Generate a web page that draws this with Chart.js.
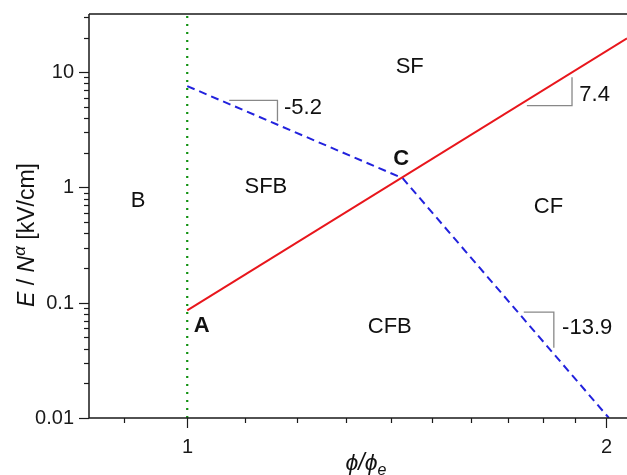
<!DOCTYPE html>
<html>
<head>
<meta charset="utf-8">
<script src="https://cdn.jsdelivr.net/npm/chart.js@4/dist/chart.umd.min.js"></script>
<style>
html,body{margin:0;padding:0;background:#fff;}
canvas{display:block;}
</style>
</head>
<body>
<canvas id="c" width="627" height="475"></canvas>
<script>
// ---- data (log-log axes) ----
const redX = [1, 2.07];
const redY = [0.086, 19.7];
const blueX = [1, 1.428, 2.009];
const blueY = [7.58, 1.205, 0.01];
const greenX = [1, 1];
const greenY = [0.01, 32];
const tri1X = [1.072, 1.161, 1.161];
const tri1Y = [5.69, 5.69, 3.75];
const tri2X = [1.754, 1.890, 1.890];
const tri2Y = [5.13, 5.13, 9.04];
const tri3X = [1.745, 1.834, 1.834];
const tri3Y = [0.0828, 0.0828, 0.0406];
const xTicks = [0.9, 1, 1.1, 1.2, 1.3, 1.4, 1.5, 1.6, 1.7, 1.8, 1.9, 2];
const xTickLabels = ['', '1', '', '', '', '', '', '', '', '', '', '2'];
const yMajorTicks = [0.01, 0.1, 1, 10];
const yMajorLabels = ['0.01', '0.1', '1', '10'];
const yMinorTicks = [0.02,0.03,0.04,0.05,0.06,0.07,0.08,0.09,0.2,0.3,0.4,0.5,0.6,0.7,0.8,0.9,2,3,4,5,6,7,8,9,20,30];
const labelText = ['B', 'A', 'C', 'SF', 'SFB', 'CF', 'CFB', '-5.2', '7.4', '-13.9'];
const labelX = [0.922, 1.024, 1.425, 1.445, 1.139, 1.818, 1.398, 1.211, 1.962, 1.938];
const labelY = [0.768, 0.0631, 1.757, 11.2, 1.02, 0.682, 0.0619, 4.89, 6.29, 0.061];
const labelBold = [false, true, true, false, false, false, false, false, false, false];

const pts = (xs, ys) => xs.map((x, i) => ({x: x, y: ys[i]}));
const FONT = "'Liberation Sans', Arial, sans-serif";

const drawPlugin = {
  id: 'deco',
  afterDraw(chart) {
    const ctx = chart.ctx;
    const xs = chart.scales.x, ys = chart.scales.y;
    const a = chart.chartArea;
    ctx.save();
    ctx.strokeStyle = '#1a1a1a';
    ctx.lineWidth = 1.5;
    // axis lines
    ctx.beginPath();
    ctx.moveTo(a.left, a.top); ctx.lineTo(a.left, a.bottom); ctx.lineTo(a.right, a.bottom);
    ctx.moveTo(a.left, a.top); ctx.lineTo(a.right, a.top);
    ctx.stroke();
    // x ticks
    ctx.lineWidth = 1.2;
    ctx.fillStyle = '#1a1a1a';
    ctx.font = '20px ' + FONT;
    ctx.textAlign = 'center';
    ctx.textBaseline = 'middle';
    xTicks.forEach((v, i) => {
      const px = Math.round(xs.getPixelForValue(v)) + 0.5;
      const len = xTickLabels[i] ? 10 : 5;
      ctx.beginPath(); ctx.moveTo(px, a.bottom); ctx.lineTo(px, a.bottom + len); ctx.stroke();
      if (xTickLabels[i]) ctx.fillText(xTickLabels[i], px, a.bottom + 29);
    });
    // y ticks
    ctx.textAlign = 'right';
    yMajorTicks.forEach((v, i) => {
      const py = Math.round(ys.getPixelForValue(v)) + 0.5;
      ctx.beginPath(); ctx.moveTo(a.left - 10, py); ctx.lineTo(a.left, py); ctx.stroke();
      ctx.fillText(yMajorLabels[i], a.left - 15, py);
    });
    yMinorTicks.forEach(v => {
      const py = Math.round(ys.getPixelForValue(v)) + 0.5;
      if (py < a.top - 1) return;
      ctx.beginPath(); ctx.moveTo(a.left - 5, py); ctx.lineTo(a.left, py); ctx.stroke();
    });
    // region / slope labels
    ctx.textBaseline = 'middle';
    ctx.textAlign = 'center';
    labelText.forEach((t, i) => {
      ctx.font = (labelBold[i] ? 'bold ' : '') + '22px ' + FONT;
      ctx.fillStyle = '#111';
      ctx.fillText(t, xs.getPixelForValue(labelX[i]), ys.getPixelForValue(labelY[i]));
    });
    // y axis title: E / N^α [kV/cm]
    const segs = [
      {t: 'E', f: 'italic 23px ' + FONT, dy: 0},
      {t: ' / ', f: '23px ' + FONT, dy: 0},
      {t: 'N', f: 'italic 23px ' + FONT, dy: 0},
      {t: 'α', f: 'italic 17px ' + FONT, dy: -9},
      {t: ' [kV/cm]', f: '23px ' + FONT, dy: 0}
    ];
    let total = 0;
    segs.forEach(s => { ctx.font = s.f; s.w = ctx.measureText(s.t).width; total += s.w; });
    ctx.save();
    ctx.translate(34, 235);
    ctx.rotate(-Math.PI / 2);
    ctx.textAlign = 'left';
    ctx.textBaseline = 'alphabetic';
    let cx = -total / 2;
    segs.forEach(s => { ctx.font = s.f; ctx.fillText(s.t, cx, s.dy); cx += s.w; });
    ctx.restore();
    // x axis title: ϕ/ϕe
    const xsegs = [
      {t: 'ϕ', f: 'italic 23px ' + FONT, dy: 0},
      {t: '/', f: 'italic 23px ' + FONT, dy: 0},
      {t: 'ϕ', f: 'italic 23px ' + FONT, dy: 0},
      {t: 'e', f: 'italic 16px ' + FONT, dy: 5}
    ];
    total = 0;
    xsegs.forEach(s => { ctx.font = s.f; s.w = ctx.measureText(s.t).width; total += s.w; });
    ctx.textAlign = 'left';
    ctx.textBaseline = 'alphabetic';
    cx = 366 - total / 2;
    xsegs.forEach(s => { ctx.font = s.f; ctx.fillText(s.t, cx, 470 + s.dy); cx += s.w; });
    ctx.restore();
  }
};

new Chart(document.getElementById('c'), {
  type: 'line',
  data: {
    datasets: [
      {data: pts(greenX, greenY), borderColor: '#109010', borderWidth: 2.2, borderDash: [2, 6], pointRadius: 0},
      {data: pts(redX, redY), borderColor: '#e8161c', borderWidth: 2, pointRadius: 0},
      {data: pts(blueX, blueY), borderColor: '#2222dd', borderWidth: 2, borderDash: [8, 5], pointRadius: 0},
      {data: pts(tri1X, tri1Y), borderColor: '#888', borderWidth: 1.3, pointRadius: 0},
      {data: pts(tri2X, tri2Y), borderColor: '#888', borderWidth: 1.3, pointRadius: 0},
      {data: pts(tri3X, tri3Y), borderColor: '#888', borderWidth: 1.3, pointRadius: 0}
    ]
  },
  options: {
    responsive: false,
    animation: false,
    parsing: true,
    layout: {padding: {top: 14, right: 0, left: 0, bottom: 0}},
    plugins: {legend: {display: false}, tooltip: {enabled: false}},
    elements: {line: {tension: 0}},
    scales: {
      x: {
        type: 'logarithmic', min: 0.85, max: 2.07,
        grid: {display: false}, border: {display: false},
        ticks: {display: false},
        afterFit(s) { s.height = 57; }
      },
      y: {
        type: 'logarithmic', min: 0.01, max: 32,
        grid: {display: false}, border: {display: false},
        ticks: {display: false},
        afterFit(s) { s.width = 89; }
      }
    }
  },
  plugins: [drawPlugin]
});
</script>
</body>
</html>
